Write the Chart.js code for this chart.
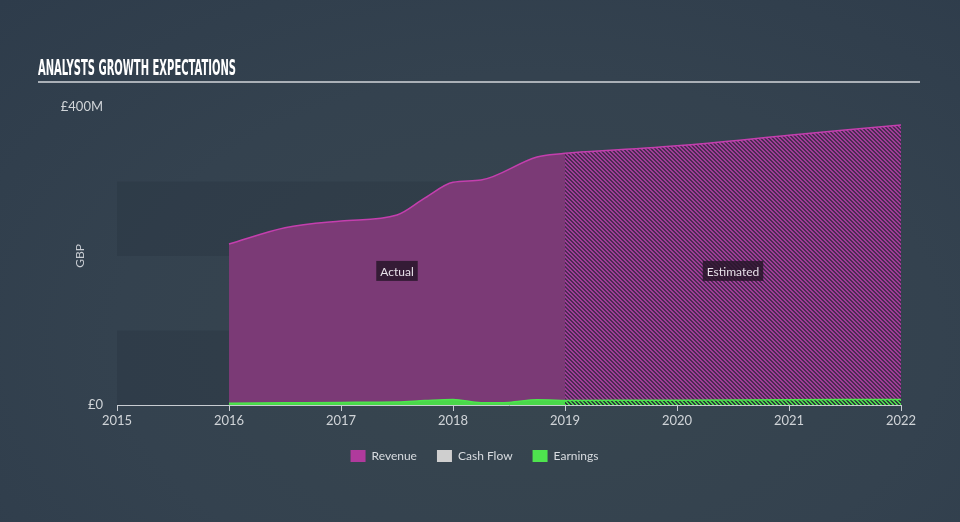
<!DOCTYPE html>
<html>
<head>
<meta charset="utf-8">
<script src="https://cdn.jsdelivr.net/npm/chart.js@4.4.0/dist/chart.umd.min.js"></script>
<style>
  html, body { margin: 0; padding: 0; }
  body {
    width: 960px; height: 522px; overflow: hidden;
    background: radial-gradient(ellipse at 55% 65%, #38464f 0%, #34424f 55%, #2e3c4b 100%);
  }
  canvas { display: block; }
</style>
</head>
<body>
<canvas id="growth" width="960" height="522"></canvas>
<script>
// revenue, GBP millions
var revenueYears = [2016, 2016.5, 2017, 2017.5, 2017.75, 2018, 2018.25, 2018.75, 2019];
var revenueValues = [216, 238, 247, 255, 278, 299, 302, 333, 338];
var revenueEstYears = [2019, 2020, 2021, 2022];
var revenueEstValues = [338, 348, 362, 376];

var earningsYears = [2016, 2016.5, 2017, 2017.5, 2017.75, 2018, 2018.25, 2018.5, 2018.75, 2019];
var earningsValues = [2.5, 3, 3.5, 4, 6, 7.5, 3, 3.5, 7, 6];
var earningsEstYears = [2019, 2020, 2021, 2022];
var earningsEstValues = [6, 6.5, 7, 7.5];

var cashFlowValues = [];

var yearTicks = [2015, 2016, 2017, 2018, 2019, 2020, 2021, 2022];
var valueTicks = [0, 400];
var bandEdges = [0, 100, 200, 300, 400];

var legendColors = { 'Revenue': '#b03a9c', 'Cash Flow': '#cfcfcf', 'Earnings': '#4ee44e' };

function points(xs, ys) {
  var out = [];
  for (var i = 0; i < xs.length; i++) out.push({ x: xs[i], y: ys[i] });
  return out;
}

function hatch(lineColor, gapColor) {
  var c = document.createElement('canvas');
  c.width = 4; c.height = 4;
  var g = c.getContext('2d');
  g.fillStyle = gapColor;
  g.fillRect(0, 0, 4, 4);
  g.fillStyle = lineColor;
  for (var y = 0; y < 4; y++) {
    for (var x = 0; x < 4; x++) {
      var d = (x - y + 8) % 4;
      if (d === 0 || d === 1) g.fillRect(x, y, 1, 1);
    }
  }
  return g.createPattern(c, 'repeat');
}

var ctx = document.getElementById('growth').getContext('2d');

var decorations = {
  id: 'decorations',
  beforeDraw: function(chart) {
    var c = chart.ctx;
    var area = chart.chartArea;
    var y = chart.scales.y;
    c.save();
    // title, squeezed to a condensed look
    c.font = 'bold 21px "Liberation Sans Narrow", "DejaVu Sans Condensed", sans-serif';
    c.fillStyle = '#ffffff';
    c.textBaseline = 'alphabetic';
    var t = 'ANALYSTS GROWTH EXPECTATIONS';
    var w = c.measureText(t).width;
    c.translate(38, 75);
    c.scale(198 / w, 1);
    c.fillText(t, 0, 0);
    c.restore();

    c.save();
    c.strokeStyle = '#aab0b7';
    c.lineWidth = 2;
    c.beginPath();
    c.moveTo(38, 82);
    c.lineTo(920, 82);
    c.stroke();

    // alternating bands
    c.fillStyle = 'rgba(28, 38, 50, 0.2)';
    for (var i = 0; i < bandEdges.length - 1; i += 2) {
      var top = y.getPixelForValue(bandEdges[i + 1]);
      var bot = y.getPixelForValue(bandEdges[i]);
      c.fillRect(area.left, top, area.right - area.left, bot - top);
    }
    c.restore();
  },
  afterDatasetsDraw: function(chart) {
    var c = chart.ctx;
    var x = chart.scales.x;
    var y = chart.scales.y;
    var tags = [
      { text: 'Actual', from: 2016, to: 2019 },
      { text: 'Estimated', from: 2019, to: 2022 }
    ];
    c.save();
    c.font = '12px Lato, "Noto Sans", sans-serif';
    c.textAlign = 'center';
    c.textBaseline = 'middle';
    var cy = y.getPixelForValue(180);
    tags.forEach(function(tag) {
      var cx = (x.getPixelForValue(tag.from) + x.getPixelForValue(tag.to)) / 2;
      var tw = c.measureText(tag.text).width + 8;
      c.fillStyle = 'rgba(40, 22, 42, 0.85)';
      c.fillRect(cx - tw / 2, cy - 10, tw, 20);
      c.fillStyle = '#e6e0e8';
      c.fillText(tag.text, cx, cy + 1);
    });
    c.restore();
  }
};

var growthChart = new Chart(ctx, {
  type: 'line',
  data: {
    datasets: [
      {
        label: 'Revenue',
        data: points(revenueYears, revenueValues),
        borderColor: '#c43fae',
        backgroundColor: '#7b3a76',
        borderWidth: 1.5,
        fill: 'origin',
        cubicInterpolationMode: 'monotone',
        pointRadius: 0,
        order: 3
      },
      {
        label: '',
        data: points(revenueEstYears, revenueEstValues),
        borderColor: '#c43fae',
        backgroundColor: hatch('#a03c98', '#4b2b53'),
        borderWidth: 1.5,
        fill: 'origin',
        cubicInterpolationMode: 'monotone',
        pointRadius: 0,
        order: 3
      },
      {
        label: 'Cash Flow',
        data: cashFlowValues,
        borderColor: '#cfcfcf',
        backgroundColor: '#cfcfcf',
        pointRadius: 0,
        order: 2
      },
      {
        label: 'Earnings',
        data: points(earningsYears, earningsValues),
        borderColor: '#4ee44e',
        backgroundColor: '#4ad84a',
        borderWidth: 1.5,
        fill: 'origin',
        cubicInterpolationMode: 'monotone',
        pointRadius: 0,
        order: 1
      },
      {
        label: '',
        data: points(earningsEstYears, earningsEstValues),
        borderColor: '#4ee44e',
        backgroundColor: hatch('#4ad84a', '#2e3a3c'),
        borderWidth: 1.5,
        fill: 'origin',
        cubicInterpolationMode: 'monotone',
        pointRadius: 0,
        order: 1
      }
    ]
  },
  options: {
    responsive: false,
    animation: false,
    devicePixelRatio: 1,
    layout: { padding: { top: 107, right: 59, bottom: 50, left: 48 } },
    scales: {
      x: {
        type: 'linear',
        min: 2015,
        max: 2022,
        afterBuildTicks: function(scale) {
          scale.ticks = yearTicks.map(function(v) { return { value: v }; });
        },
        afterFit: function(scale) { scale.height = 25; },
        ticks: {
          color: '#d0d4d8',
          font: { family: 'Lato, "Noto Sans", sans-serif', size: 13 },
          padding: 2,
          maxRotation: 0,
          callback: function(v) { return String(v); }
        },
        grid: { drawOnChartArea: false, drawTicks: true, tickLength: 6, color: '#c8ccd2' },
        border: { display: true, color: '#c8ccd2', width: 1 }
      },
      y: {
        min: 0,
        max: 400,
        afterBuildTicks: function(scale) {
          scale.ticks = valueTicks.map(function(v) { return { value: v }; });
        },
        afterFit: function(scale) { scale.width = 69; },
        ticks: {
          color: '#d0d4d8',
          font: { family: 'Lato, "Noto Sans", sans-serif', size: 13 },
          padding: 14,
          callback: function(v) { return v === 0 ? '£0' : '£' + v + 'M'; }
        },
        grid: { display: false, drawTicks: false },
        border: { display: false },
        title: {
          display: true,
          text: 'GBP',
          color: '#c8ccd2',
          font: { family: 'Lato, "Noto Sans", sans-serif', size: 12 },
          padding: { top: 25, bottom: 0 }
        }
      }
    },
    plugins: {
      legend: {
        position: 'bottom',
        labels: {
          color: '#d8dce0',
          font: { family: 'Lato, "Noto Sans", sans-serif', size: 12 },
          boxWidth: 15,
          boxHeight: 12,
          padding: 20,
          filter: function(item) { return item.text !== ''; },
          sort: function(a, b) { return a.datasetIndex - b.datasetIndex; },
          generateLabels: function(chart) {
            var items = Chart.defaults.plugins.legend.labels.generateLabels(chart);
            items.forEach(function(it) {
              var col = legendColors[it.text];
              if (col) { it.fillStyle = col; it.strokeStyle = col; it.lineWidth = 0; }
            });
            return items;
          }
        }
      },
      tooltip: { enabled: false }
    }
  },
  plugins: [decorations]
});
</script>
</body>
</html>
